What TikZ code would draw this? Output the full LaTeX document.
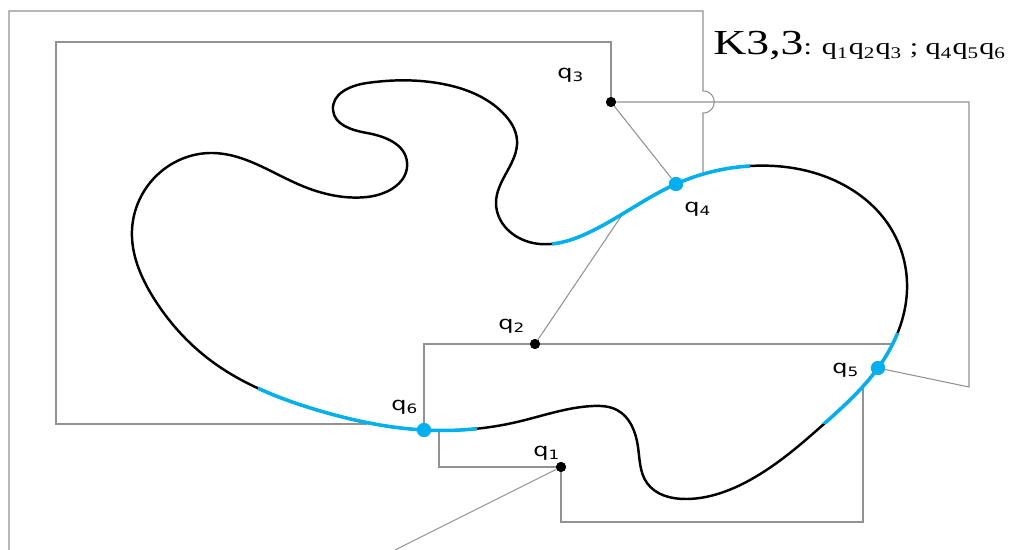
\documentclass[tikz,border=0pt]{standalone}
\usepackage{fontspec}
\setmainfont{Liberation Serif}
\newfontfamily\labelfont{DejaVu Sans}
\usetikzlibrary{positioning,hobby}
\definecolor{qblue}{HTML}{00B0F0}
\definecolor{wiregray}{HTML}{929292}

\newcommand{\jordancurve}{plot[closed hobby] coordinates {
    (424,430) (317,410) (210,360) (153,297) (132,230) (167,167) (213,153)
    (300,185) (367,197) (407,162) (367,133) (333,110) (367,83) (443,84)
    (503,113) (517,140) (496,203) (533,243) (590,232) (676,184) (750,166)
    (840,183) (890,227) (907,290) (878,368) (825,423) (750,480) (687,499)
    (647,483) (638,447) (617,410) (593,406) (517,422)}}

\begin{document}
\begin{tikzpicture}[
    x=0.02cm, y=-0.02cm,
    wire/.style={draw=wiregray, line width=0.6pt},
    curve/.style={draw=black, line width=1.4pt},
    bluecurve/.style={draw=qblue, line width=2pt},
    blackdot/.style={circle, fill=black, inner sep=0pt, minimum size=2mm},
    bluedot/.style={circle, fill=qblue, inner sep=0pt, minimum size=2.8mm},
    qlabel/.style={font=\labelfont\fontsize{10.5}{11}\selectfont, inner sep=0pt, xscale=1.3}
]
\useasboundingbox (0,0) rectangle (1013,550);

% vertices
\node[blackdot] (q1) at (561,467) {};
\node[blackdot] (q2) at (535,344) {};
\node[blackdot] (q3) at (611,102) {};
\node[bluedot] (q4) at (676,184) {};
\node[bluedot] (q5) at (878,368) {};
\node[bluedot] (q6) at (424,430) {};

% where edges meet the curve, and leave the page
\coordinate (c4a) at (622,215);
\coordinate (c4b) at (703,173);
\coordinate (c5a) at (892,344);
\coordinate (c5b) at (863,387);
\coordinate (c6a) at (367,424);
\coordinate (c6b) at (439,431);
\coordinate (out1) at (395,550);
\coordinate (out2) at (9,550);

% edges
\draw[wire] (q3) |- (56,42) |- (c6a);
\draw[wire] (q3) -- (q4);
\draw[wire] (q3) -- (969,102) -- (969,387) -- (q5);
\draw[wire] (q2) -- (c4a);
\draw[wire] (q2) -| (q6);
\draw[wire] (q2) -- (c5a);
\draw[wire] (q1) -| (c6b);
\draw[wire] (q1) |- (863,522) -- (c5b);
\draw[wire] (q1) -- (out1);
\draw[wire] (out2) |- (703,11) -- (703,91)
    .. controls (718,91) and (718,113) .. (703,113) -- (c4b);

% the curve
\draw[curve] \jordancurve;
\begin{scope}
\clip (258,375) rectangle (477,445);
\draw[bluecurve] \jordancurve;
\end{scope}
\begin{scope}
\clip (552,150) rectangle (750,255);
\draw[bluecurve] \jordancurve;
\end{scope}
\begin{scope}
\clip (800,333) rectangle (920,423);
\draw[bluecurve] \jordancurve;
\end{scope}

% dots on top
\node[blackdot] at (q1) {};
\node[blackdot] at (q2) {};
\node[blackdot] at (q3) {};
\node[bluedot] at (q4) {};
\node[bluedot] at (q5) {};
\node[bluedot] at (q6) {};

% labels
\node[qlabel] (lq1) at (547,453) {q\textsubscript{1}};
\node[qlabel] (lq2) at (512,326) {q\textsubscript{2}};
\node[qlabel] (lq3) at (571,75) {q\textsubscript{3}};
\node[qlabel] (lq4) at (698,209) {q\textsubscript{4}};
\node[qlabel] (lq5) at (846,370) {q\textsubscript{5}};
\node[qlabel] (lq6) at (405,407) {q\textsubscript{6}};

\node[anchor=base west, inner sep=0pt, xscale=1.3] (title) at (713,55)
    {\fontsize{20}{20}\selectfont K3,3\fontsize{13.2}{14}\selectfont: q\textsubscript{1}q\textsubscript{2}q\textsubscript{3} ; q\textsubscript{4}q\textsubscript{5}q\textsubscript{6}};
\end{tikzpicture}
\end{document}
